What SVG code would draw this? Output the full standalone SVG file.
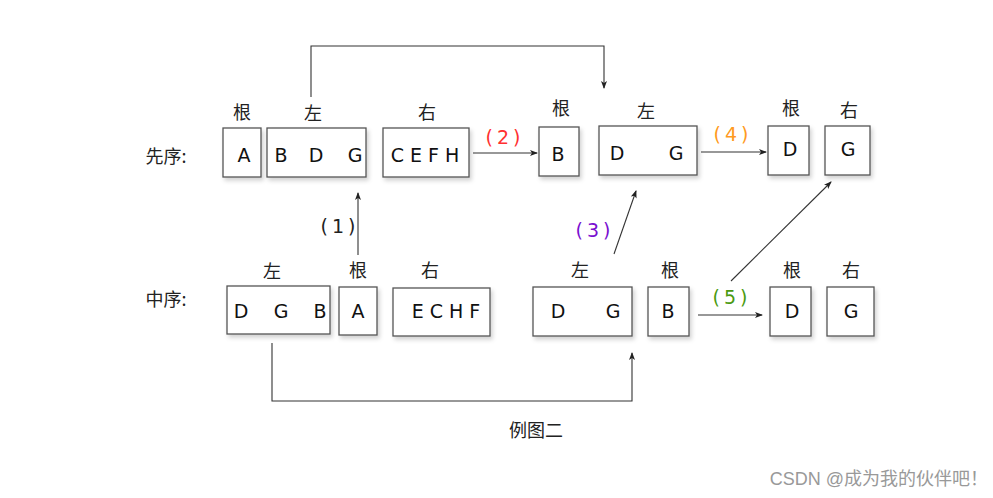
<svg xmlns="http://www.w3.org/2000/svg" width="993" height="498" viewBox="0 0 993 498">
<defs>
<filter id="sh" x="-20%" y="-20%" width="140%" height="140%">
<feDropShadow dx="2" dy="3" stdDeviation="2" flood-color="#000" flood-opacity="0.18"/>
</filter>
<marker id="ah" markerWidth="8" markerHeight="8" refX="7" refY="4" orient="auto" markerUnits="userSpaceOnUse">
<path d="M0,1 L8,4 L0,7 L2,4 Z" fill="#222"/>
</marker>
<style>
.box{fill:#fff;stroke:#555;stroke-width:1.3;filter:url(#sh)}
.t{font-family:"DejaVu Sans","Noto Sans CJK SC",sans-serif;font-size:19px;fill:#111;text-anchor:middle}
.c{font-family:"Noto Sans CJK SC",sans-serif;font-size:18px;fill:#222;text-anchor:middle}
.ln{fill:none;stroke:#333;stroke-width:1.1}
.lab{font-family:"DejaVu Sans",sans-serif;font-size:19px;text-anchor:middle;letter-spacing:4px}
</style>
</defs>
<rect width="993" height="498" fill="#fff"/>

<g id="connectors">
<path class="ln" d="M311,97 V46 H604 V88" marker-end="url(#ah)"/>
<path class="ln" d="M473,153 H537" marker-end="url(#ah)"/>
<path class="ln" d="M701,152 H766" marker-end="url(#ah)"/>
<path class="ln" d="M358,255 V193" marker-end="url(#ah)"/>
<path class="ln" d="M272,343 V401 H632 V353" marker-end="url(#ah)"/>
<path class="ln" d="M614,254 L636,191" marker-end="url(#ah)"/>
<path class="ln" d="M698,315 H762" marker-end="url(#ah)"/>
<path class="ln" d="M731,281 L831,182" marker-end="url(#ah)"/>
</g>

<g id="labels">
<text class="lab" x="505" y="144" fill="#ff3030">(2)</text>
<text class="lab" x="733" y="141" fill="#ff9a20">(4)</text>
<text class="lab" x="340" y="233" fill="#222">(1)</text>
<text class="lab" x="595" y="237" fill="#7a10d0">(3)</text>
<text class="lab" x="732" y="304" fill="#4a9a10">(5)</text>
</g>

<g id="row-labels">
<text class="c" x="166" y="163">先序:</text>
<text class="c" x="166" y="306">中序:</text>
</g>

<g id="pre-A">
<text class="c" x="242" y="119">根</text>
<rect class="box" x="223" y="128" width="38" height="49"/>
<text class="t" x="244" y="162">A</text>
</g>
<g id="pre-BDG">
<text class="c" x="313" y="120">左</text>
<rect class="box" x="267" y="128" width="99" height="49"/>
<text class="t" x="281" y="162">B</text>
<text class="t" x="316" y="162">D</text>
<text class="t" x="355" y="162">G</text>
</g>
<g id="pre-CEFH">
<text class="c" x="427" y="119">右</text>
<rect class="box" x="383" y="128" width="86" height="49"/>
<text class="t" x="425" y="162">C E F H</text>
</g>
<g id="pre2-B">
<text class="c" x="561" y="115">根</text>
<rect class="box" x="539" y="127" width="40" height="49"/>
<text class="t" x="558" y="161">B</text>
</g>
<g id="pre2-DG">
<text class="c" x="646" y="118">左</text>
<rect class="box" x="599" y="126" width="98" height="49"/>
<text class="t" x="617" y="160">D</text>
<text class="t" x="676" y="160">G</text>
</g>
<g id="pre3-D">
<text class="c" x="791" y="115">根</text>
<rect class="box" x="768" y="126" width="41" height="49"/>
<text class="t" x="790" y="156">D</text>
</g>
<g id="pre3-G">
<text class="c" x="849" y="117">右</text>
<rect class="box" x="825" y="126" width="45" height="49"/>
<text class="t" x="848" y="156">G</text>
</g>

<g id="in-DGB">
<text class="c" x="272" y="278">左</text>
<rect class="box" x="227" y="286" width="103" height="48"/>
<text class="t" x="241" y="318">D</text>
<text class="t" x="281" y="318">G</text>
<text class="t" x="320" y="318">B</text>
</g>
<g id="in-A">
<text class="c" x="358" y="277">根</text>
<rect class="box" x="339" y="287" width="38" height="48"/>
<text class="t" x="358" y="318">A</text>
</g>
<g id="in-ECHF">
<text class="c" x="430" y="277">右</text>
<rect class="box" x="393" y="288" width="97" height="48"/>
<text class="t" x="446" y="318">E C H F</text>
</g>
<g id="in2-DG">
<text class="c" x="580" y="277">左</text>
<rect class="box" x="533" y="287" width="99" height="49"/>
<text class="t" x="558" y="318">D</text>
<text class="t" x="613" y="318">G</text>
</g>
<g id="in2-B">
<text class="c" x="670" y="277">根</text>
<rect class="box" x="648" y="287" width="41" height="49"/>
<text class="t" x="668" y="318">B</text>
</g>
<g id="in3-D">
<text class="c" x="792" y="277">根</text>
<rect class="box" x="770" y="287" width="41" height="49"/>
<text class="t" x="792" y="318">D</text>
</g>
<g id="in3-G">
<text class="c" x="851" y="277">右</text>
<rect class="box" x="827" y="287" width="47" height="49"/>
<text class="t" x="851" y="318">G</text>
</g>

<text class="c" x="536" y="437" style="font-size:18px">例图二</text>
<text x="988" y="485" style="font-family:'Liberation Sans','Noto Sans CJK SC',sans-serif;font-size:18px;fill:#999;text-anchor:end">CSDN @成为我的伙伴吧！</text>
</svg>
